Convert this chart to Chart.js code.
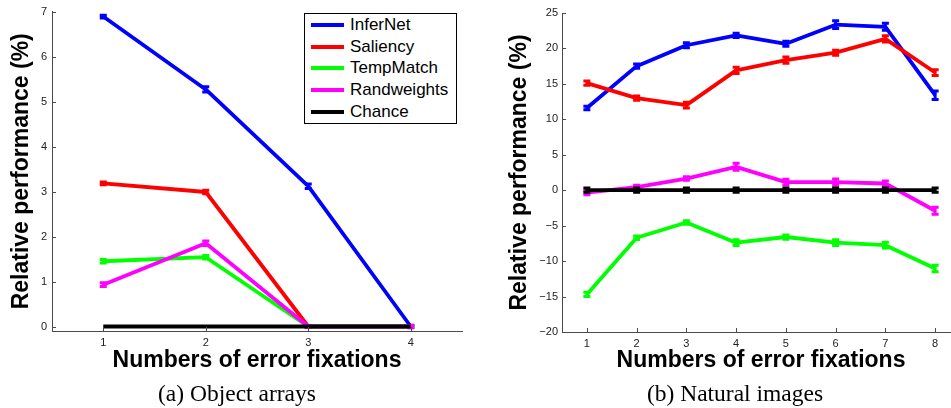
<!DOCTYPE html>
<html>
<head>
<meta charset="utf-8">
<script src="https://cdn.jsdelivr.net/npm/chart.js@4.4.1/dist/chart.umd.min.js"></script>
<style>
  html, body { margin: 0; padding: 0; background: #fff; overflow: hidden; }
  body { width: 951px; height: 408px; position: relative; }
  .wrap { position: absolute; top: 0; height: 380px; }
  #wrapA { left: 0; width: 475px; }
  #wrapB { left: 475px; width: 500px; }
  .caption {
    position: absolute; top: 379px; width: 300px; height: 28px; line-height: 28px;
    text-align: center; font-family: "Liberation Serif", "Times New Roman", serif;
    font-size: 23.5px; color: #000;
  }
  #legend {
    position: absolute; left: 304px; top: 13px; width: 151px; height: 109px;
    border: 1px solid #000; background: #fff;
    font-family: "Liberation Sans", Arial, sans-serif; font-size: 17px; color: #000;
  }
  #legend .row { position: relative; height: 21.7px; }
  #legend .swatch { position: absolute; left: 6px; top: 8.9px; width: 33px; height: 4px; }
  #legend .label { position: absolute; left: 45px; top: 0; line-height: 21.7px; white-space: nowrap; }
</style>
</head>
<body>
<div class="wrap" id="wrapA"><canvas id="chartA" width="475" height="380"></canvas></div>
<div class="wrap" id="wrapB"><canvas id="chartB" width="500" height="380"></canvas></div>
<div id="legend"></div>
<div class="caption" style="left:87px">(a) Object arrays</div>
<div class="caption" style="left:585px">(b) Natural images</div>
<script>
const seriesNames = ["InferNet", "Saliency", "TempMatch", "Randweights", "Chance"];
const seriesColors = ["#0000ff", "#ff0000", "#00ff00", "#ff00ff", "#000000"];

// (a) Object arrays
const fixA = [1, 2, 3, 4];
const inferNetA = [6.89, 5.27, 3.12, 0.0];
const saliencyA = [3.18, 2.99, 0.0, 0.0];
const tempMatchA = [1.45, 1.54, 0.0, 0.0];
const randA = [0.93, 1.85, 0.0, 0.0];
const chanceA = [0, 0, 0, 0];
const errInferNetA = [0.03, 0.06, 0.05, 0.03];
const errSaliencyA = [0.03, 0.04, 0.02, 0.02];
const errTempMatchA = [0.04, 0.04, 0.02, 0.02];
const errRandA = [0.04, 0.05, 0.02, 0.02];
const errChanceA = [0, 0, 0, 0];
const yTicksA = [0, 1, 2, 3, 4, 5, 6, 7];

// (b) Natural images
const fixB = [1, 2, 3, 4, 5, 6, 7, 8];
const inferNetB = [11.6, 17.5, 20.45, 21.85, 20.65, 23.35, 23.05, 13.4];
const saliencyB = [15.1, 13.0, 12.0, 16.9, 18.35, 19.4, 21.35, 16.6];
const tempMatchB = [-14.7, -6.7, -4.55, -7.4, -6.6, -7.4, -7.75, -11.05];
const randB = [-0.35, 0.45, 1.65, 3.3, 1.15, 1.15, 0.95, -2.9];
const chanceB = [0, 0, 0, 0, 0, 0, 0, 0];
const errInferNetB = [0.25, 0.3, 0.35, 0.3, 0.35, 0.55, 0.5, 0.6];
const errSaliencyB = [0.3, 0.3, 0.4, 0.45, 0.45, 0.35, 0.45, 0.4];
const errTempMatchB = [0.3, 0.25, 0.25, 0.4, 0.3, 0.4, 0.4, 0.45];
const errRandB = [0.3, 0.25, 0.25, 0.5, 0.4, 0.45, 0.35, 0.5];
const errChanceB = [0.3, 0.3, 0.3, 0.3, 0.3, 0.3, 0.3, 0.3];
const yTicksB = [-20, -15, -10, -5, 0, 5, 10, 15, 20, 25];

const sans = '"Liberation Sans", Arial, sans-serif';
const axisColor = "#4a4a4a";

// legend (html)
let legend = document.querySelector("#legend");
seriesNames.forEach((name, i) => {
  legend.innerHTML += `<div class="row"><div class="swatch" style="background:${seriesColors[i]}"></div><div class="label">${name}</div></div>`;
});

// error bars drawn right after each line, so stacking follows the lines
const errorBars = {
  id: "errorBars",
  afterDatasetDraw(chart, args) {
    let ds = chart.data.datasets[args.index];
    if (!ds.err) return;
    let ctx = chart.ctx;
    let y = chart.scales.y;
    ctx.save();
    ctx.strokeStyle = ds.borderColor;
    ctx.lineWidth = 3;
    args.meta.data.forEach((pt, i) => {
      let e = ds.err[i];
      if (!e) return;
      let v = ds.data[i].y;
      let top = y.getPixelForValue(v + e);
      let bot = y.getPixelForValue(v - e);
      ctx.beginPath();
      ctx.moveTo(pt.x, top);
      ctx.lineTo(pt.x, bot);
      ctx.moveTo(pt.x - 3.5, top);
      ctx.lineTo(pt.x + 3.5, top);
      ctx.moveTo(pt.x - 3.5, bot);
      ctx.lineTo(pt.x + 3.5, bot);
      ctx.stroke();
    });
    ctx.restore();
  },
};

// matlab style ticks pointing into the plot
const innerTicks = {
  id: "innerTicks",
  afterDraw(chart) {
    let ctx = chart.ctx;
    let area = chart.chartArea;
    let { x, y } = chart.scales;
    ctx.save();
    ctx.strokeStyle = axisColor;
    ctx.lineWidth = 1;
    ctx.beginPath();
    y.ticks.forEach((t) => {
      let py = Math.round(y.getPixelForValue(t.value)) + 0.5;
      ctx.moveTo(area.left, py);
      ctx.lineTo(area.left + 4, py);
    });
    x.ticks.forEach((t) => {
      let px = Math.round(x.getPixelForValue(t.value)) + 0.5;
      ctx.moveTo(px, area.bottom);
      ctx.lineTo(px, area.bottom - 4);
    });
    ctx.stroke();
    ctx.restore();
  },
};

function crearDatasets(xs, series, errs) {
  return series.map((vals, i) => ({
    label: seriesNames[i],
    data: xs.map((x, j) => ({ x: x, y: vals[j] })),
    err: errs[i],
    borderColor: seriesColors[i],
    backgroundColor: seriesColors[i],
    borderWidth: 3.8,
    borderJoinStyle: "round",
    pointRadius: 0,
    tension: 0,
    clip: false,
    order: series.length - 1 - i,
  }));
}

function minus(v) {
  return v < 0 ? "\u2212" + Math.abs(v) : String(v);
}

function crearOpciones(cfg) {
  return {
    responsive: false,
    animation: false,
    layout: { padding: { top: cfg.padTop, right: cfg.padRight, left: 0, bottom: 0 } },
    plugins: { legend: { display: false }, tooltip: { enabled: false } },
    scales: {
      x: {
        type: "linear",
        min: cfg.xMin,
        max: cfg.xMax,
        grid: { display: false, drawTicks: false },
        border: { display: true, color: axisColor, width: 1 },
        afterBuildTicks: (s) => { s.ticks = cfg.xTicks.map((v) => ({ value: v })); },
        afterFit: (s) => { s.height = cfg.xHeight; },
        ticks: {
          color: "#222", padding: 5, maxRotation: 0, autoSkip: false,
          font: { family: sans, size: 11 },
          callback: (v) => String(v),
        },
        title: {
          display: true, text: "Numbers of error fixations", color: "#000",
          font: { family: sans, size: 23, weight: "bold", lineHeight: 1.2 },
          padding: { top: 0, bottom: 6 },
        },
      },
      y: {
        min: cfg.yMin,
        max: cfg.yMax,
        grid: { display: false, drawTicks: false },
        border: { display: true, color: axisColor, width: 1 },
        afterBuildTicks: (s) => { s.ticks = cfg.yTicks.map((v) => ({ value: v })); },
        afterFit: (s) => { s.width = cfg.yWidth; },
        ticks: {
          color: "#222", padding: cfg.yPad,
          font: { family: sans, size: 11 },
          callback: (v) => minus(v),
        },
        title: {
          display: true, text: "Relative performance (%)", color: "#000",
          font: { family: sans, size: 23, weight: "bold", lineHeight: 1.2 },
          padding: { top: cfg.yTitlePad, bottom: 0 },
        },
      },
    },
  };
}

new Chart(document.getElementById("chartA"), {
  type: "line",
  data: {
    datasets: crearDatasets(
      fixA,
      [inferNetA, saliencyA, tempMatchA, randA, chanceA],
      [errInferNetA, errSaliencyA, errTempMatchA, errRandA, errChanceA]
    ),
  },
  options: crearOpciones({
    padTop: 7, padRight: 13, xMin: 0.5, xMax: 4.5, xTicks: fixA, xHeight: 49,
    yMin: -0.1, yMax: 7, yTicks: yTicksA, yWidth: 52, yPad: 5, yTitlePad: 8,
  }),
  plugins: [errorBars, innerTicks],
});

new Chart(document.getElementById("chartB"), {
  type: "line",
  data: {
    datasets: crearDatasets(
      fixB,
      [inferNetB, saliencyB, tempMatchB, randB, chanceB],
      [errInferNetB, errSaliencyB, errTempMatchB, errRandB, errChanceB]
    ),
  },
  options: crearOpciones({
    padTop: 13, padRight: 15, xMin: 0.5, xMax: 8.5, xTicks: fixB, xHeight: 48,
    yMin: -20, yMax: 25, yTicks: yTicksB, yWidth: 87, yPad: 4, yTitlePad: 31,
  }),
  plugins: [errorBars, innerTicks],
});
</script>
</body>
</html>
